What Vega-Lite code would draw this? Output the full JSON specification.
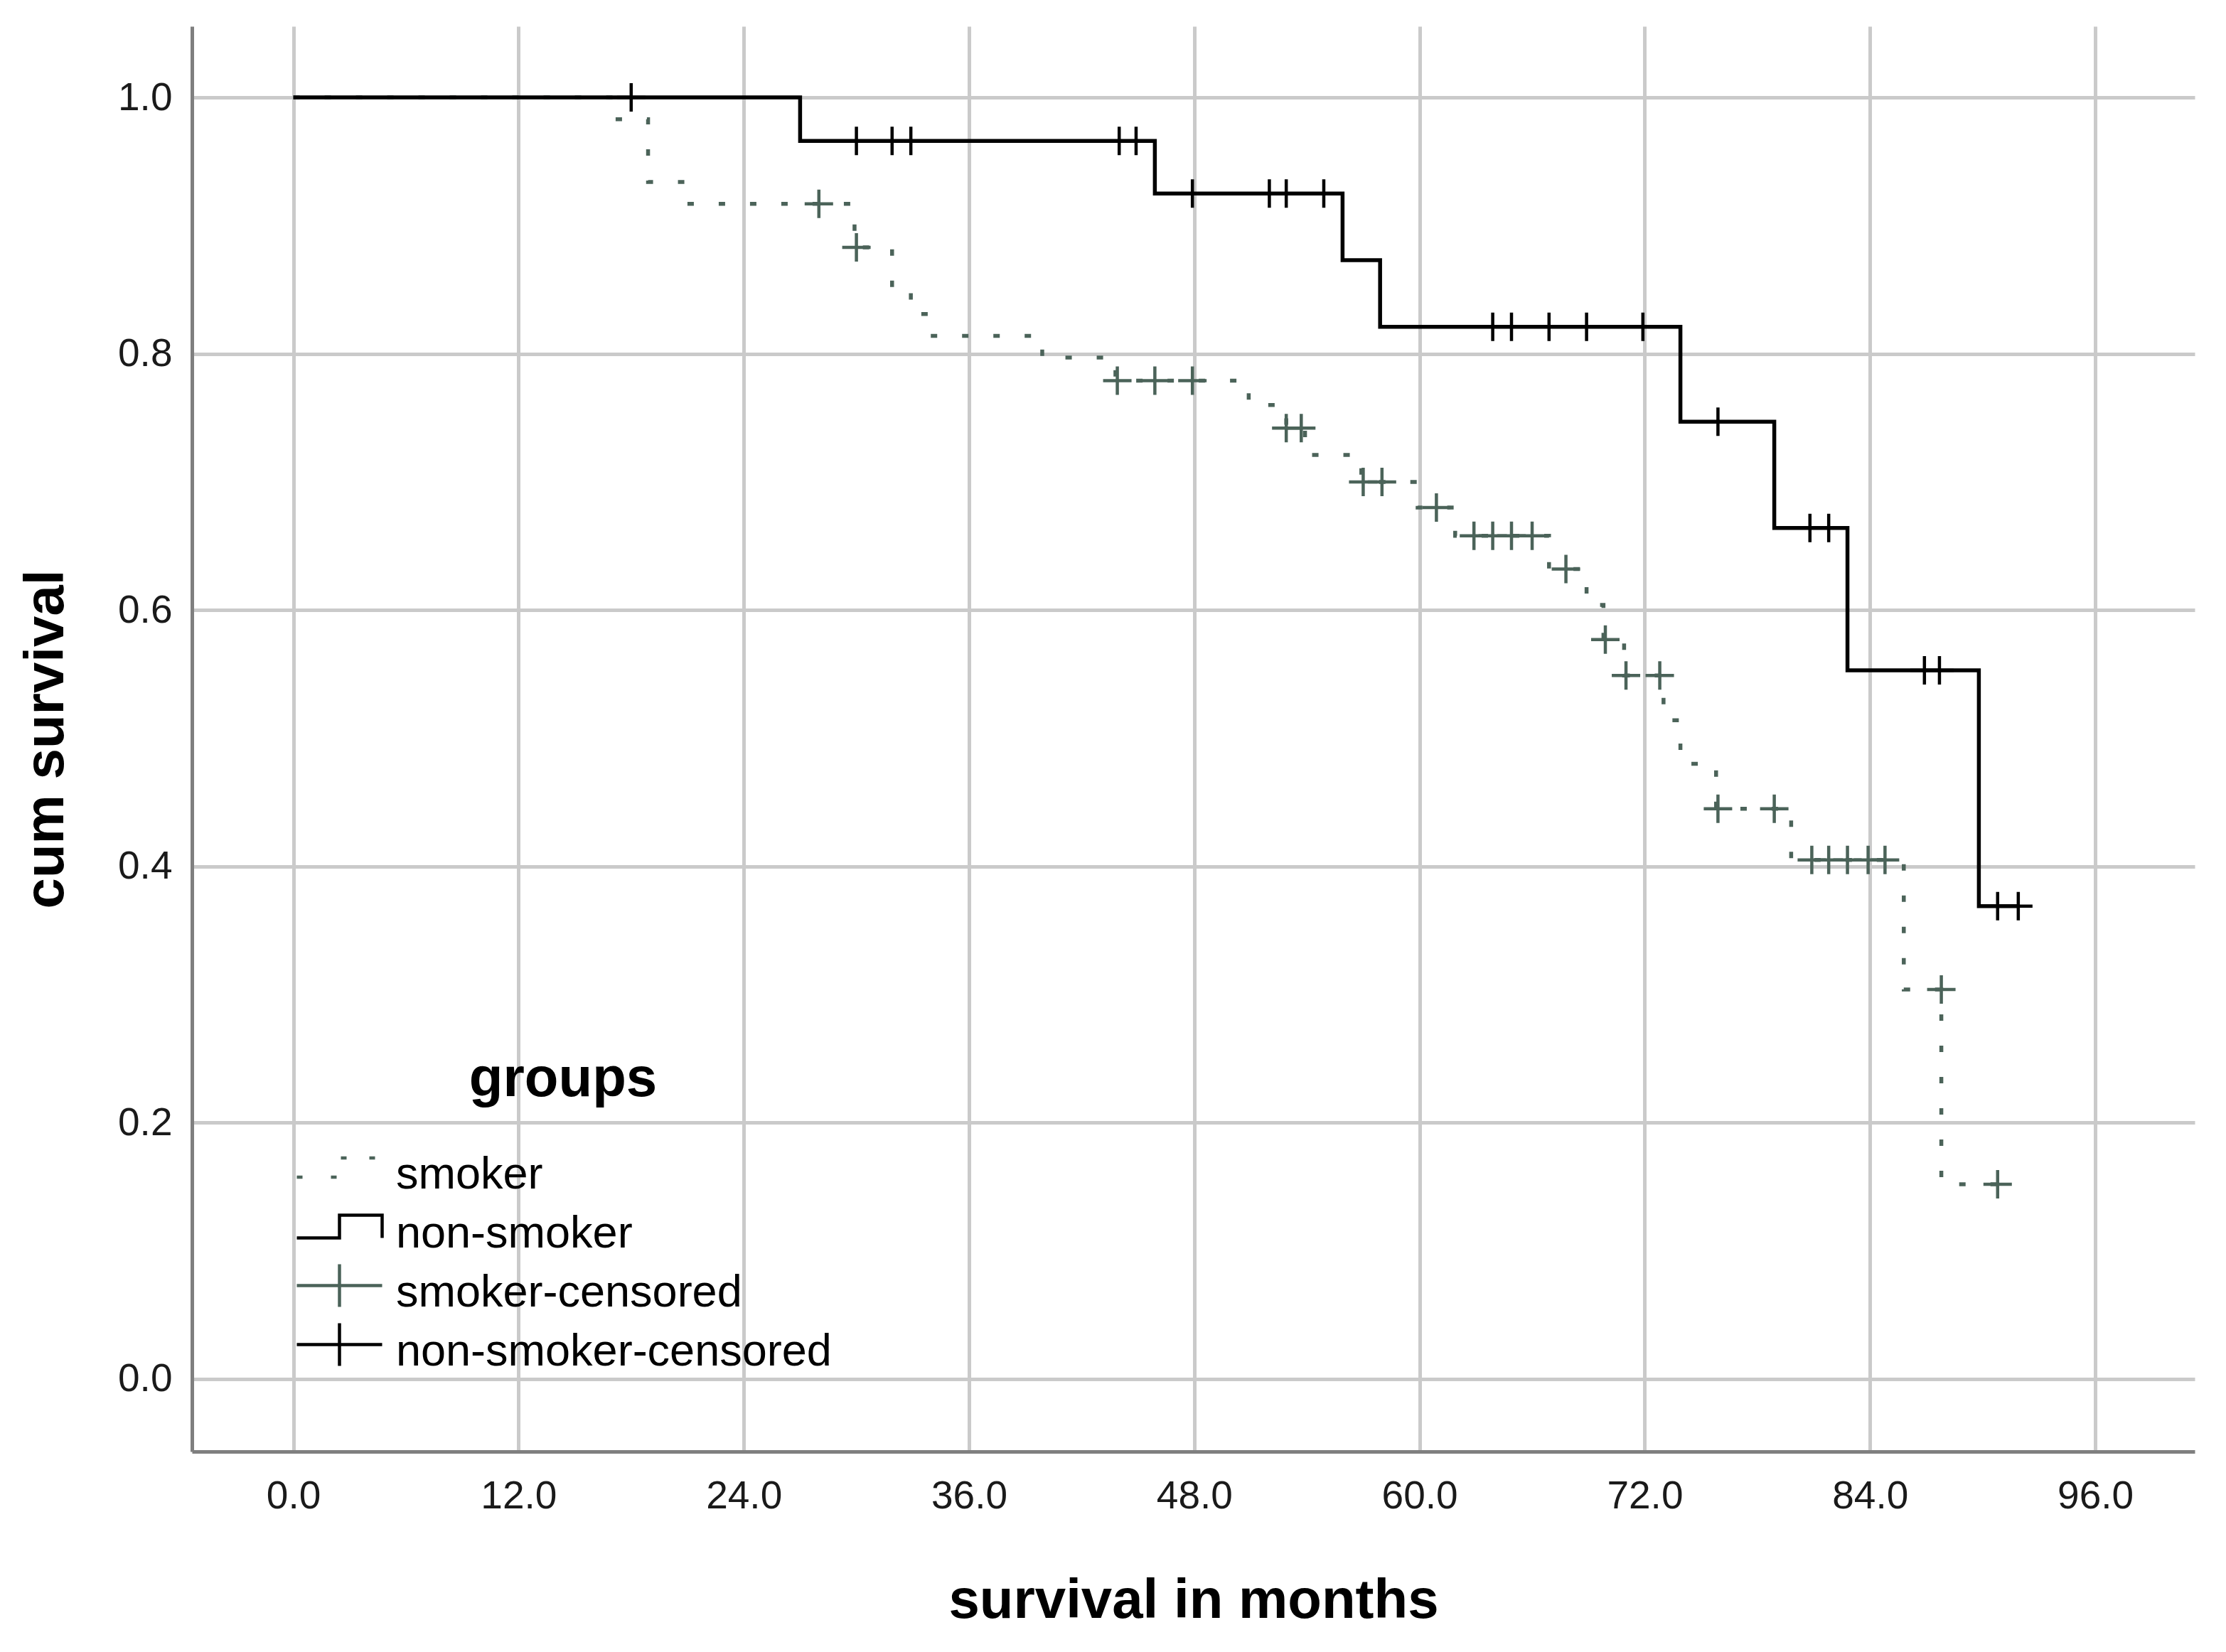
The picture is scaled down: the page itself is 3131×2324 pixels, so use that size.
{
  "$schema": "https://vega.github.io/schema/vega-lite/v6.json",
  "width": 2817,
  "height": 2005,
  "autosize": {"type": "none"},
  "padding": {"left": 270, "top": 37, "right": 44, "bottom": 282},
  "background": "#ffffff",
  "config": {
    "view": {"stroke": null},
    "font": "Liberation Sans",
    "axis": {
      "domainColor": "#7f7f7f",
      "domainWidth": 5,
      "ticks": false,
      "gridColor": "#cacaca",
      "gridWidth": 5,
      "labelFont": "Liberation Sans",
      "labelFontSize": 55,
      "labelColor": "#1a1a1a",
      "titleFont": "Liberation Sans",
      "titleFontSize": 78,
      "titleFontWeight": "bold",
      "titleColor": "#000000"
    }
  },
  "datasets": {
    "curves": [
      {"group": "smoker", "t": 0, "s": 1.0},
      {"group": "smoker", "t": 16.9, "s": 0.983},
      {"group": "smoker", "t": 18.9, "s": 0.934},
      {"group": "smoker", "t": 20.9, "s": 0.917},
      {"group": "smoker", "t": 29.9, "s": 0.883},
      {"group": "smoker", "t": 31.9, "s": 0.848},
      {"group": "smoker", "t": 32.9, "s": 0.831},
      {"group": "smoker", "t": 33.9, "s": 0.814},
      {"group": "smoker", "t": 39.9, "s": 0.797},
      {"group": "smoker", "t": 43.8, "s": 0.779},
      {"group": "smoker", "t": 50.9, "s": 0.76},
      {"group": "smoker", "t": 52.9, "s": 0.742},
      {"group": "smoker", "t": 53.9, "s": 0.721},
      {"group": "smoker", "t": 56.9, "s": 0.7},
      {"group": "smoker", "t": 59.9, "s": 0.68},
      {"group": "smoker", "t": 61.9, "s": 0.658},
      {"group": "smoker", "t": 66.9, "s": 0.632},
      {"group": "smoker", "t": 68.9, "s": 0.604},
      {"group": "smoker", "t": 69.8, "s": 0.577},
      {"group": "smoker", "t": 70.9, "s": 0.549},
      {"group": "smoker", "t": 73.0, "s": 0.514},
      {"group": "smoker", "t": 73.9, "s": 0.48},
      {"group": "smoker", "t": 75.8, "s": 0.445},
      {"group": "smoker", "t": 79.8, "s": 0.405},
      {"group": "smoker", "t": 85.8, "s": 0.304},
      {"group": "smoker", "t": 87.8, "s": 0.152},
      {"group": "smoker", "t": 90.8, "s": 0.152},
      {"group": "non-smoker", "t": 0, "s": 1.0},
      {"group": "non-smoker", "t": 27.0, "s": 0.966},
      {"group": "non-smoker", "t": 45.9, "s": 0.925},
      {"group": "non-smoker", "t": 55.9, "s": 0.873},
      {"group": "non-smoker", "t": 57.9, "s": 0.821},
      {"group": "non-smoker", "t": 73.9, "s": 0.747},
      {"group": "non-smoker", "t": 78.9, "s": 0.664},
      {"group": "non-smoker", "t": 82.8, "s": 0.553},
      {"group": "non-smoker", "t": 89.8, "s": 0.369},
      {"group": "non-smoker", "t": 91.9, "s": 0.369}
    ],
    "censored": [
      {"group": "non-smoker-censored", "t": 18.0, "s": 1.0},
      {"group": "non-smoker-censored", "t": 30.0, "s": 0.966},
      {"group": "non-smoker-censored", "t": 31.9, "s": 0.966},
      {"group": "non-smoker-censored", "t": 32.9, "s": 0.966},
      {"group": "non-smoker-censored", "t": 44.0, "s": 0.966},
      {"group": "non-smoker-censored", "t": 44.9, "s": 0.966},
      {"group": "non-smoker-censored", "t": 47.9, "s": 0.925},
      {"group": "non-smoker-censored", "t": 52.0, "s": 0.925},
      {"group": "non-smoker-censored", "t": 52.9, "s": 0.925},
      {"group": "non-smoker-censored", "t": 54.9, "s": 0.925},
      {"group": "non-smoker-censored", "t": 63.9, "s": 0.821},
      {"group": "non-smoker-censored", "t": 64.9, "s": 0.821},
      {"group": "non-smoker-censored", "t": 66.9, "s": 0.821},
      {"group": "non-smoker-censored", "t": 68.9, "s": 0.821},
      {"group": "non-smoker-censored", "t": 71.9, "s": 0.821},
      {"group": "non-smoker-censored", "t": 75.9, "s": 0.747},
      {"group": "non-smoker-censored", "t": 80.8, "s": 0.664},
      {"group": "non-smoker-censored", "t": 81.8, "s": 0.664},
      {"group": "non-smoker-censored", "t": 86.9, "s": 0.553},
      {"group": "non-smoker-censored", "t": 87.7, "s": 0.553},
      {"group": "non-smoker-censored", "t": 90.8, "s": 0.369},
      {"group": "non-smoker-censored", "t": 91.9, "s": 0.369},
      {"group": "smoker-censored", "t": 28.0, "s": 0.917},
      {"group": "smoker-censored", "t": 30.0, "s": 0.883},
      {"group": "smoker-censored", "t": 43.9, "s": 0.779},
      {"group": "smoker-censored", "t": 45.9, "s": 0.779},
      {"group": "smoker-censored", "t": 47.9, "s": 0.779},
      {"group": "smoker-censored", "t": 52.9, "s": 0.742},
      {"group": "smoker-censored", "t": 53.7, "s": 0.742},
      {"group": "smoker-censored", "t": 57.0, "s": 0.7},
      {"group": "smoker-censored", "t": 58.0, "s": 0.7},
      {"group": "smoker-censored", "t": 60.9, "s": 0.68},
      {"group": "smoker-censored", "t": 62.9, "s": 0.658},
      {"group": "smoker-censored", "t": 63.9, "s": 0.658},
      {"group": "smoker-censored", "t": 64.9, "s": 0.658},
      {"group": "smoker-censored", "t": 66.0, "s": 0.658},
      {"group": "smoker-censored", "t": 67.8, "s": 0.632},
      {"group": "smoker-censored", "t": 69.9, "s": 0.577},
      {"group": "smoker-censored", "t": 71.0, "s": 0.549},
      {"group": "smoker-censored", "t": 72.8, "s": 0.549},
      {"group": "smoker-censored", "t": 75.9, "s": 0.445},
      {"group": "smoker-censored", "t": 78.9, "s": 0.445},
      {"group": "smoker-censored", "t": 80.9, "s": 0.405},
      {"group": "smoker-censored", "t": 81.8, "s": 0.405},
      {"group": "smoker-censored", "t": 82.8, "s": 0.405},
      {"group": "smoker-censored", "t": 83.9, "s": 0.405},
      {"group": "smoker-censored", "t": 84.8, "s": 0.405},
      {"group": "smoker-censored", "t": 87.8, "s": 0.304},
      {"group": "smoker-censored", "t": 90.8, "s": 0.152}
    ]
  },
  "encoding": {
    "x": {
      "field": "t",
      "type": "quantitative",
      "scale": {"domain": [-5.4, 101.3], "nice": false, "zero": false},
      "axis": {
        "values": [0, 12, 24, 36, 48, 60, 72, 84, 96],
        "format": ".1f",
        "title": "survival in months",
        "titleBaseline": "alphabetic",
        "titleY": 233,
        "labelPadding": 36
      }
    },
    "y": {
      "field": "s",
      "type": "quantitative",
      "scale": {"domain": [-0.0566, 1.0555], "nice": false, "zero": false},
      "axis": {
        "values": [0, 0.2, 0.4, 0.6, 0.8, 1.0],
        "format": ".1f",
        "title": "cum survival",
        "titleBaseline": "alphabetic",
        "titleX": -182,
        "labelPadding": 28
      }
    }
  },
  "layer": [
    {
      "data": {"name": "curves"},
      "mark": {"type": "line", "interpolate": "step-after", "strokeWidth": 5.5, "strokeCap": "butt"},
      "encoding": {
        "color": {
          "field": "group",
          "type": "nominal",
          "scale": {"domain": ["smoker", "non-smoker"], "range": ["#4b6359", "#000000"]},
          "legend": null
        },
        "strokeDash": {
          "field": "group",
          "type": "nominal",
          "scale": {"domain": ["smoker", "non-smoker"], "range": [[9, 35], [1, 0]]},
          "legend": null
        }
      }
    },
    {
      "data": {"name": "censored"},
      "mark": {"type": "point", "filled": false, "size": 1600, "strokeWidth": 4.5, "opacity": 1},
      "encoding": {
        "color": {
          "field": "group",
          "type": "nominal",
          "scale": {
            "domain": ["smoker", "non-smoker", "smoker-censored", "non-smoker-censored"],
            "range": ["#4b6359", "#000000", "#4b6359", "#000000"]
          },
          "legend": {
            "title": "groups",
            "orient": "none",
            "legendX": 176,
            "legendY": 1443,
            "padding": 0,
            "titleFontSize": 78,
            "titleFontWeight": "bold",
            "titleColor": "#000000",
            "titleFont": "Liberation Sans",
            "titleAnchor": "middle",
            "titleLimit": 3000,
            "titlePadding": 63,
            "labelFont": "Liberation Sans",
            "labelFontSize": 63,
            "labelColor": "#000000",
            "labelLimit": 3000,
            "labelOffset": 48,
            "rowPadding": 1,
            "symbolSize": 1600,
            "symbolStrokeWidth": 4.5,
            "encoding": {
              "title": {
                "dx": {"value": -16}
              },
              "symbols": {
                "shape": {"value": {"expr": "datum.value === 'smoker' ? 'M-3,0.18H-2.6M-0.6,0.18H-0.2M0.1,-1.18H0.5M2.1,-1.18H2.5M0,-2H0M0,1H0' : datum.value === 'non-smoker' ? 'M-3,0.3H0V-1.3H3V0.3M0,-2H0M0,1H0' : 'M-3,-0.5H3M0,-2V1'"}},
                "fill": {"value": "transparent"}
              }
            }
          }
        },
        "shape": {
          "field": "group",
          "type": "nominal",
          "scale": {
            "domain": ["smoker", "non-smoker", "smoker-censored", "non-smoker-censored"],
            "range": ["M-1,0H1M0,-1V1", "M-1,0H1M0,-1V1", "M-1,0H1M0,-1V1", "M-1,0H1M0,-1V1"]
          },
          "legend": null
        }
      }
    }
  ],
  "resolve": {"scale": {"color": "independent"}}
}
